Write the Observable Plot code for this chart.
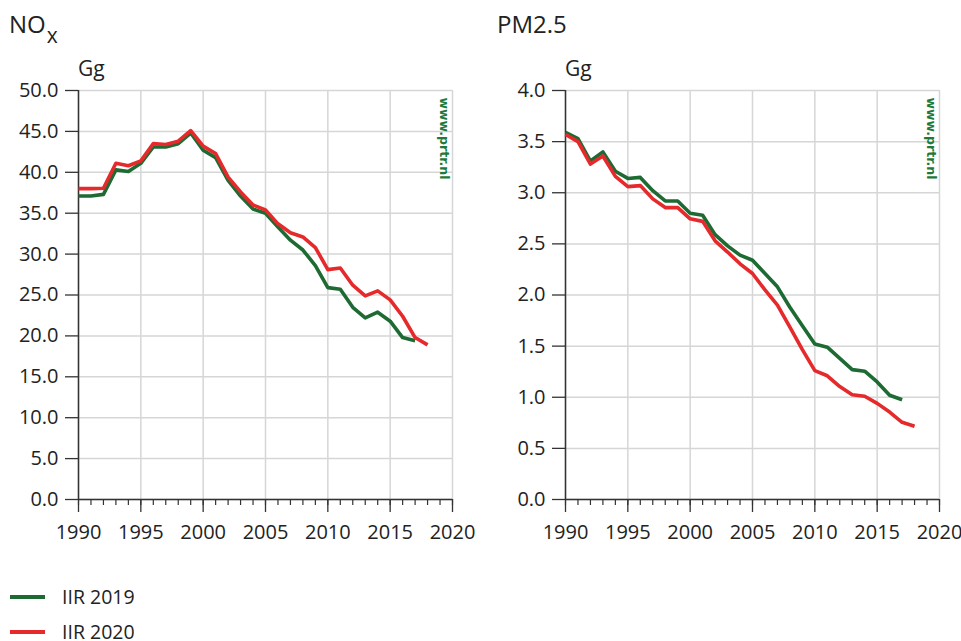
<!DOCTYPE html>
<html><head><meta charset="utf-8">
<script src="https://cdn.jsdelivr.net/npm/d3@7"></script>
<script src="https://cdn.jsdelivr.net/npm/@observablehq/plot@0.6"></script>
<style>
body{margin:0;background:#fff;font-family:"Open Sans",sans-serif;color:#222;}
#root{position:relative;width:961px;height:641px;overflow:hidden;background:#fff;}
.abs{position:absolute;white-space:nowrap;line-height:1;}
.title{font-size:24px;}
.unit{font-size:21px;}
.leg{font-size:19.5px;}
.sw{position:absolute;width:35px;height:4px;}
</style></head><body><div id="root"></div>
<script>
const years2019 = [1990,1991,1992,1993,1994,1995,1996,1997,1998,1999,2000,2001,2002,2003,2004,2005,2006,2007,2008,2009,2010,2011,2012,2013,2014,2015,2016,2017];
const years2020 = [1990,1991,1992,1993,1994,1995,1996,1997,1998,1999,2000,2001,2002,2003,2004,2005,2006,2007,2008,2009,2010,2011,2012,2013,2014,2015,2016,2017,2018];
const noxIIR2019 = [37.1,37.1,37.3,40.3,40.1,41.1,43.1,43.1,43.5,44.8,42.7,41.8,39.0,37.1,35.5,35.0,33.3,31.7,30.5,28.6,25.9,25.7,23.5,22.2,22.9,21.8,19.8,19.4];
const noxIIR2020 = [38.0,38.0,38.05,41.1,40.8,41.4,43.5,43.4,43.8,45.1,43.2,42.3,39.4,37.6,36.0,35.4,33.7,32.6,32.1,30.8,28.1,28.3,26.2,24.9,25.5,24.4,22.4,19.8,18.9];
const pmIIR2019 = [3.59,3.53,3.31,3.40,3.21,3.14,3.15,3.02,2.92,2.92,2.80,2.78,2.59,2.48,2.39,2.34,2.21,2.08,1.88,1.70,1.52,1.49,1.38,1.27,1.255,1.15,1.02,0.975];
const pmIIR2020 = [3.57,3.50,3.28,3.36,3.16,3.06,3.07,2.94,2.855,2.855,2.745,2.72,2.53,2.42,2.305,2.21,2.05,1.90,1.685,1.465,1.26,1.21,1.105,1.025,1.01,0.94,0.855,0.755,0.717];
const xTicks = [1990,1995,2000,2005,2010,2015,2020];
const noxTicks = [0,5,10,15,20,25,30,35,40,45,50];
const pmTicks = [0,0.5,1,1.5,2,2.5,3,3.5,4];
const seriesNames = ["IIR 2019","IIR 2020"];
const seriesColors = ["#1d6a33","#e6292b"];
const watermark = "www.prtr.nl";

const root = document.getElementById("root");

function rows(xs, ys, name){ return ys.map((y,i)=>({year:xs[i], value:y, series:name})); }

function chart({yTicks, yMax, s2019, s2020, width, marginRight}){
  const data = [...rows(years2019, s2019, seriesNames[0]), ...rows(years2020, s2020, seriesNames[1])];
  const minor = d3.range(1990, 2021);
  return Plot.plot({
    width, height: 464,
    marginLeft: 78, marginRight, marginTop: 10, marginBottom: 45,
    x: {domain: [1990, 2020]},
    y: {domain: [0, yMax]},
    color: {domain: seriesNames, range: seriesColors},
    style: {fontSize: "20px", fontFamily: "Open Sans, sans-serif", color: "#222", background: "white", overflow: "visible"},
    marks: [
      Plot.gridY(yTicks, {stroke: "#d6d6d6", strokeOpacity: 1, strokeWidth: 1.5}),
      Plot.gridX(xTicks, {stroke: "#d6d6d6", strokeOpacity: 1, strokeWidth: 1.5}),
      Plot.axisY(yTicks, {tickFormat: d => d.toFixed(1), tickSize: 13, tickPadding: 7, label: null, stroke: "#333", strokeWidth: 1.3}),
      Plot.axisX(minor, {tickSize: 6, tickFormat: () => "", label: null, stroke: "#333", strokeWidth: 1.2}),
      Plot.axisX(xTicks, {tickSize: 13, tickPadding: 12, tickFormat: d => String(d), label: null, stroke: "#333", strokeWidth: 1.3}),
      Plot.ruleX([1990], {stroke: "#333", strokeWidth: 1.5}),
      Plot.ruleY([0], {stroke: "#333", strokeWidth: 1.5}),
      Plot.line(data, {x: "year", y: "value", z: "series", stroke: "series", strokeWidth: 3.6, strokeLinejoin: "round", strokeLinecap: "butt"}),
      Plot.text([watermark], {frameAnchor: "top-right", rotate: 90, textAnchor: "start", dx: -4, dy: 7, fill: "#1d7a3a", fontWeight: "bold", fontSize: 12.5, fontFamily: "DejaVu Sans, sans-serif"})
    ]
  });
}

function place(el, left, top){ el.style.position = "absolute"; el.style.left = left + "px"; el.style.top = top + "px"; root.appendChild(el); }

const c1 = chart({yTicks: noxTicks, yMax: 50, s2019: noxIIR2019, s2020: noxIIR2020, width: 480, marginRight: 28});
place(c1, 0, 80);
const c2 = chart({yTicks: pmTicks, yMax: 4, s2019: pmIIR2019, s2020: pmIIR2020, width: 474, marginRight: 22});
place(c2, 487, 80);

function txt(html, cls, left, top){ const d = document.createElement("div"); d.className = "abs " + cls; d.innerHTML = html; d.style.left = left + "px"; d.style.top = top + "px"; root.appendChild(d); return d; }
txt('NO<span style="font-size:21px;position:relative;top:10px;left:1px">x</span>', "title", 9, 12);
txt("PM2.5", "title", 497, 12);
txt("Gg", "unit", 78, 58);
txt("Gg", "unit", 565, 58);

seriesNames.forEach((n, i) => {
  const sw = document.createElement("div"); sw.className = "sw"; sw.style.background = seriesColors[i];
  sw.style.left = "10px"; sw.style.top = (595 + i * 35) + "px"; root.appendChild(sw);
  txt(n, "leg", 62, 587 + i * 35);
});
</script></body></html>
